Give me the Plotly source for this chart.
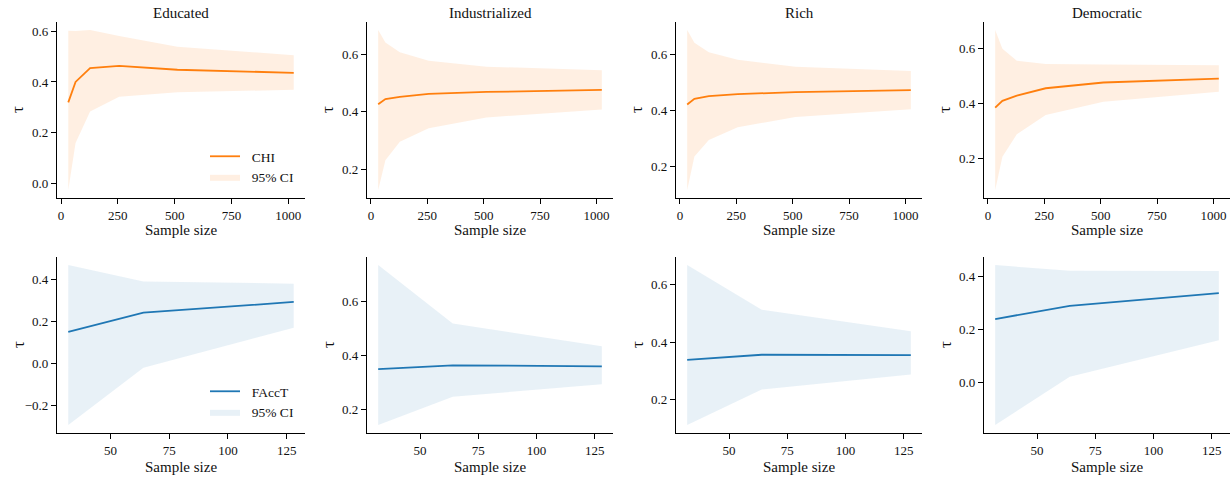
import plotly.graph_objects as go

categories = ["Educated", "Industrialized", "Rich", "Democratic"]
sizes_chi = [32, 64, 128, 256, 512, 1024]
sizes_facct = [32, 64, 128]

chi_mean = [
    [0.320, 0.400, 0.454, 0.463, 0.448, 0.436],
    [0.426, 0.444, 0.452, 0.462, 0.469, 0.476],
    [0.421, 0.441, 0.451, 0.458, 0.465, 0.472],
    [0.385, 0.410, 0.429, 0.456, 0.477, 0.491],
]
chi_upper = [
    [0.601, 0.600, 0.604, 0.580, 0.538, 0.505],
    [0.685, 0.641, 0.607, 0.578, 0.557, 0.545],
    [0.686, 0.641, 0.607, 0.580, 0.555, 0.540],
    [0.669, 0.600, 0.557, 0.545, 0.543, 0.540],
]
chi_lower = [
    [-0.024, 0.160, 0.284, 0.342, 0.360, 0.369],
    [0.127, 0.231, 0.295, 0.342, 0.380, 0.408],
    [0.117, 0.236, 0.295, 0.340, 0.377, 0.404],
    [0.084, 0.206, 0.288, 0.358, 0.407, 0.443],
]

facct_mean = [
    [0.152, 0.243, 0.294],
    [0.350, 0.364, 0.360],
    [0.338, 0.356, 0.355],
    [0.238, 0.288, 0.336],
]
facct_upper = [
    [0.470, 0.392, 0.381],
    [0.737, 0.519, 0.435],
    [0.669, 0.513, 0.438],
    [0.442, 0.420, 0.419],
]
facct_lower = [
    [-0.292, -0.019, 0.171],
    [0.142, 0.247, 0.294],
    [0.111, 0.235, 0.287],
    [-0.162, 0.020, 0.158],
]

W, H = 1231, 480
FONT = "Liberation Serif"
TXT = "#111"
ORANGE = "#ff7f0e"
BLUE = "#1f77b4"
ORANGE_FILL = "rgba(255,127,14,0.12)"
BLUE_FILL = "rgba(31,119,180,0.10)"
NB = "\u00a0\u00a0"

col_px = [(57, 305), (367, 613), (676, 922), (984, 1230)]
row_px = [(22, 198), (257, 433)]
xlabel_y = [230, 467]

fig = go.Figure()

def pad_range(lo, hi, frac=0.05):
    p = (hi - lo) * frac
    return [lo - p, hi + p]

rows = [
    ("CHI", sizes_chi, chi_mean, chi_lower, chi_upper, ORANGE, ORANGE_FILL, 250),
    ("FAccT", sizes_facct, facct_mean, facct_lower, facct_upper, BLUE, BLUE_FILL, 25),
]

ax = 0
for r, (name, xs, means, lows, ups, color, fill, dx) in enumerate(rows):
    for c, cat in enumerate(categories):
        ax += 1
        xa = "x" if ax == 1 else f"x{ax}"
        ya = "y" if ax == 1 else f"y{ax}"
        legend_id = "legend" if r == 0 else "legend2"
        show = c == 0
        fig.add_trace(go.Scatter(
            x=list(xs) + list(xs[::-1]),
            y=list(ups[c]) + list(lows[c][::-1]),
            fill="toself", fillcolor=fill, mode="lines",
            line=dict(width=0, color=fill), hoverinfo="skip",
            name=NB + "95% CI", showlegend=show, legendrank=2,
            legend=legend_id, xaxis=xa, yaxis=ya,
        ))
        fig.add_trace(go.Scatter(
            x=xs, y=means[c], mode="lines",
            line=dict(color=color, width=1.8),
            name=NB + name, showlegend=show, legendrank=1,
            legend=legend_id, xaxis=xa, yaxis=ya,
        ))
        x0, x1 = col_px[c]
        y0, y1 = row_px[r]
        xr = pad_range(min(xs), max(xs))
        yr = pad_range(min(lows[c]), max(ups[c]))
        axis_common = dict(
            showline=True, linecolor="black", linewidth=1.3,
            ticks="outside", ticklen=5, tickwidth=1.1, tickcolor="black",
            showgrid=False, zeroline=False, automargin=False,
            tickfont=dict(family=FONT, size=13, color=TXT),
        )
        fig.update_layout(**{
            ("xaxis" if ax == 1 else f"xaxis{ax}"): dict(
                domain=[x0 / W, x1 / W], anchor=ya, range=xr,
                tick0=0, dtick=dx, **axis_common),
            ("yaxis" if ax == 1 else f"yaxis{ax}"): dict(
                domain=[1 - y1 / H, 1 - y0 / H], anchor=xa, range=yr,
                tick0=0, dtick=0.2, tickformat=".1f", **axis_common),
        })
        # axis titles
        fig.add_annotation(
            text="Sample size", xref="paper", yref="paper",
            x=(x0 + x1) / 2 / W, y=1 - xlabel_y[r] / H,
            xanchor="center", yanchor="middle", showarrow=False,
            font=dict(family=FONT, size=15, color=TXT),
        )
        fig.add_annotation(
            text="τ", xref="paper", yref="paper",
            x=(x0 - 39) / W, y=1 - (y0 + y1) / 2 / H,
            xanchor="center", yanchor="middle", showarrow=False, textangle=-90,
            font=dict(family=FONT, size=17, color=TXT),
        )

for c, cat in enumerate(categories):
    x0, x1 = col_px[c]
    fig.add_annotation(
        text=cat, xref="paper", yref="paper",
        x=(x0 + x1) / 2 / W, y=1 - 13 / H, xanchor="center", yanchor="middle",
        showarrow=False, font=dict(family=FONT, size=15, color=TXT),
    )

legend_common = dict(
    bgcolor="rgba(0,0,0,0)", borderwidth=0,
    font=dict(family=FONT, size=13.5, color=TXT),
    xanchor="left", yanchor="top", traceorder="normal",
    itemwidth=30, tracegroupgap=0,
)
fig.update_layout(
    width=W, height=H,
    margin=dict(l=0, r=0, t=0, b=0),
    paper_bgcolor="white", plot_bgcolor="white",
    legend=dict(x=205 / W, y=1 - 141 / H, **legend_common),
    legend2=dict(x=205 / W, y=1 - 376 / H, **legend_common),
)

fig.write_html(
    "out.html",
    config={"displayModeBar": False},
    post_script="document.body.style.margin='0';document.body.style.overflow='hidden';",
)
